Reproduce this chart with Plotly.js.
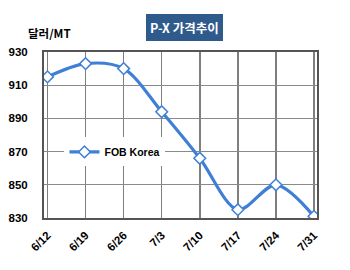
<!DOCTYPE html>
<html><head><meta charset="utf-8">
<script src="https://cdn.plot.ly/plotly-3.0.1.min.js"></script>
<style>html,body{margin:0;padding:0;background:#fff}#c{width:350px;height:270px}</style>
</head><body><div id="c"></div>
<script>
const dates = ["6/12","6/19","6/26","7/3","7/10","7/17","7/24","7/31"];
const fobKorea = [915, 923, 920, 894, 866, 835, 850, 831];
const yTicks = [830, 850, 870, 890, 910, 930];
const seriesName = "FOB Korea";
const chartTitle = "P-X 가격추이";
const yUnit = "달러/MT";

const idx = dates.map((d, i) => i);
const font = "Liberation Sans, Arial, sans-serif";
const kfont = "Noto Sans CJK KR, " + font;

const traces = [
  {
    x: idx, y: fobKorea, name: seriesName, type: "scatter", mode: "lines+markers",
    line: {color: "#3F7FD6", width: 3.2, shape: "spline", smoothing: 0.9},
    marker: {symbol: "diamond", size: 9, color: "#ffffff", line: {color: "#3F7FD6", width: 1.5}}
  }
];

const layout = {
  width: 350, height: 270,
  margin: {l: 43.5, r: 33, t: 52, b: 52},
  paper_bgcolor: "#fff", plot_bgcolor: "#fff",
  showlegend: true,
  legend: {x: 0.075, y: 0.398, xanchor: "left", yanchor: "middle", bgcolor: "#fff",
           font: {family: font, size: 10.5, color: "#000", weight: "bold"},
           itemwidth: 30, tracegroupgap: 0},
  xaxis: {
    range: [-0.092, 7.079], tickmode: "array", tickvals: idx, ticktext: dates,
    tickangle: -45, showgrid: true, gridcolor: "#7f7f7f", gridwidth: 1.5,
    zeroline: false, ticks: "", ticklabelstandoff: 4,
    tickfont: {family: font, size: 11.5, color: "#000", weight: "bold"},
    showline: true, linecolor: "#555", linewidth: 2, mirror: true
  },
  yaxis: {
    range: [830, 930], tickmode: "array", tickvals: yTicks,
    showgrid: true, gridcolor: "#8a8a8a", gridwidth: 1.3, zeroline: false, ticks: "",
    ticklabelstandoff: 12,
    tickfont: {family: font, size: 11.5, color: "#000", weight: "bold"},
    showline: true, linecolor: "#555", linewidth: 2, mirror: true
  },
  annotations: [
    {text: chartTitle, xref: "paper", yref: "paper", x: 0.515, y: 1.145, xanchor: "center", yanchor: "middle",
     showarrow: false, bgcolor: "#2F5A8C", borderpad: 3, bordercolor: "#2F5A8C",
     font: {family: kfont, size: 12.5, color: "#fff", weight: "bold"}},
    {text: yUnit, xref: "paper", yref: "paper", x: -0.065, y: 1.054, xanchor: "left", yanchor: "bottom",
     showarrow: false, font: {family: kfont, size: 11.5, color: "#000", weight: "bold"}}
  ]
};

Plotly.newPlot("c", traces, layout, {displayModeBar: false, staticPlot: true});
</script></body></html>
